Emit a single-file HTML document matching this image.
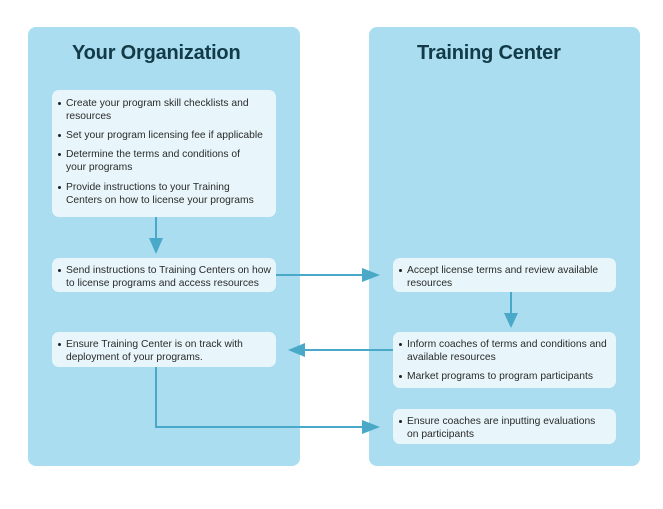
<!DOCTYPE html>
<html><head><style>
body{margin:0;width:663px;height:509px;background:#fff;position:relative;overflow:hidden;font-family:"Liberation Sans",sans-serif;}
.panel{position:absolute;background:#a9ddef;border-radius:8px;top:27px;height:439px;}
.title{position:absolute;top:42px;font-size:20px;color:#123a47;font-weight:bold;letter-spacing:-0.2px;}
.box{position:absolute;background:#e8f6fb;border-radius:7px;box-sizing:border-box;padding:6px 2px 0 9px;font-size:10.3px;line-height:13px;color:#2a2a2a;white-space:nowrap;}
.box p{margin:0 0 6px 0;padding-left:5px;position:relative;}
.box p:before{content:"";position:absolute;left:-3px;top:5px;width:3px;height:3px;border-radius:2px;background:#222;}
svg{position:absolute;left:0;top:0;}
</style></head><body>
<div class="panel" style="left:28px;width:272px"></div>
<div class="panel" style="left:369px;width:271px"></div>
<div class="title" style="left:72px">Your Organization</div>
<div class="title" style="left:417px">Training Center</div>

<div class="box" style="left:52px;top:90px;width:224px;height:127px;padding-top:7px">
<p>Create your program skill checklists and<br>resources</p>
<p>Set your program licensing fee if applicable</p>
<p style="margin-bottom:7px">Determine the terms and conditions of<br>your programs</p>
<p>Provide instructions to your Training<br>Centers on how to license your programs</p>
</div>
<div class="box" style="left:52px;top:258px;width:224px;height:34px"><p>Send instructions to Training Centers on how<br>to license programs and access resources</p></div>
<div class="box" style="left:52px;top:332px;width:224px;height:35px"><p>Ensure Training Center is on track with<br>deployment of your programs.</p></div>

<div class="box" style="left:393px;top:258px;width:223px;height:34px"><p>Accept license terms and review available<br>resources</p></div>
<div class="box" style="left:393px;top:332px;width:223px;height:56px"><p>Inform coaches of terms and conditions and<br>available resources</p><p>Market programs to program participants</p></div>
<div class="box" style="left:393px;top:409px;width:223px;height:35px"><p>Ensure coaches are inputting evaluations<br>on participants</p></div>

<svg width="663" height="509">
<g stroke="#4aa8c8" stroke-width="2" fill="none">
<line x1="156" y1="217" x2="156" y2="240"/>
<line x1="276" y1="275" x2="365" y2="275"/>
<line x1="511" y1="292" x2="511" y2="315"/>
<line x1="393" y1="350" x2="302" y2="350"/>
<polyline points="156,367 156,427 365,427"/>
</g>
<g fill="#4aa8c8">
<polygon points="149,238 163,238 156,254"/>
<polygon points="362,268 362,282 380,275"/>
<polygon points="504,313 518,313 511,328"/>
<polygon points="305,343 305,357 288,350"/>
<polygon points="362,420 362,434 380,427"/>
</g>
</svg>
</body></html>
